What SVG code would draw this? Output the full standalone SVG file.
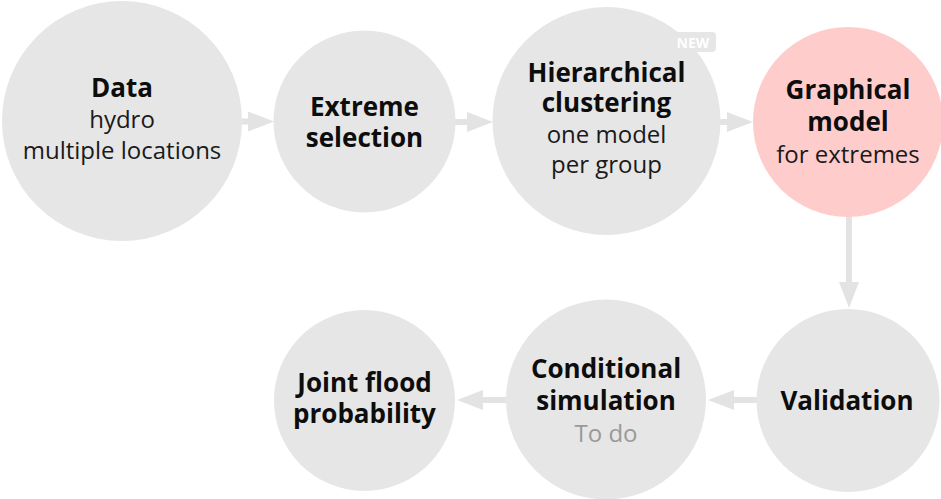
<svg xmlns="http://www.w3.org/2000/svg" width="941" height="499" viewBox="0 0 941 499">
<defs>
<style>
.node{fill:#e6e6e6;}
.hl{fill:#ffcccc;}
.t{font-family:"Open Sans","Noto Sans","DejaVu Sans",sans-serif;font-weight:700;font-size:26px;fill:#0d0d0d;text-anchor:middle;}
.s{font-family:"Open Sans","Noto Sans","DejaVu Sans",sans-serif;font-weight:400;font-size:24px;fill:#1a1a1a;text-anchor:middle;}
.todo{fill:#999;}
.conn line{stroke:#e3e3e3;stroke-width:6;fill:none;marker-end:url(#ah);}
.badge{fill:#e6e6e6;}
.badgetxt{font-family:"Open Sans","Noto Sans","DejaVu Sans",sans-serif;font-weight:700;font-size:14px;fill:#fff;text-anchor:middle;}
</style>
<marker id="ah" markerUnits="userSpaceOnUse" markerWidth="26" markerHeight="21" refX="0" refY="10" orient="auto" viewBox="0 0 26 21">
<path d="M0,0 L26,10 L0,20 Z" fill="#e3e3e3"/>
</marker>
</defs>
<rect width="941" height="499" fill="#fff"/>
<g id="connectors" class="conn">
<line x1="240" y1="121.5" x2="248" y2="121.5"/>
<line x1="453" y1="122" x2="467" y2="122"/>
<line x1="718" y1="122" x2="727" y2="122"/>
<line x1="849" y1="215" x2="849" y2="282"/>
<line x1="759" y1="400" x2="734" y2="400"/>
<line x1="508" y1="400" x2="483" y2="400"/>
</g>
<g id="node-data">
<circle class="node" cx="122" cy="121" r="120"/>
<text class="t" x="122" y="97">Data</text>
<text class="s" x="122" y="128">hydro</text>
<text class="s" x="122" y="159">multiple locations</text>
</g>
<g id="node-extreme">
<circle class="node" cx="364.5" cy="121.5" r="91"/>
<text class="t" x="364.5" y="116">Extreme</text>
<text class="t" x="364.5" y="147">selection</text>
</g>
<g id="node-hier">
<circle class="node" cx="606.5" cy="121" r="114"/>
<rect class="badge" x="670" y="32" width="46" height="20" rx="4"/>
<text class="badgetxt" x="693" y="47.5">NEW</text>
<text class="t" x="606.5" y="82">Hierarchical</text>
<text class="t" x="606.5" y="112">clustering</text>
<text class="s" x="606.5" y="143">one model</text>
<text class="s" x="606.5" y="173">per group</text>
</g>
<g id="node-graphical">
<circle class="hl" cx="848" cy="122" r="95"/>
<text class="t" x="848" y="99">Graphical</text>
<text class="t" x="848" y="131">model</text>
<text class="s" x="848" y="163">for extremes</text>
</g>
<g id="node-validation">
<circle class="node" cx="848" cy="400.5" r="91.5"/>
<text class="t" x="847" y="410">Validation</text>
</g>
<g id="node-conditional">
<circle class="node" cx="606" cy="399.5" r="100"/>
<text class="t" x="606" y="378">Conditional</text>
<text class="t" x="606" y="410">simulation</text>
<text class="s todo" x="606" y="442">To do</text>
</g>
<g id="node-joint">
<circle class="node" cx="364.5" cy="400.5" r="90.5"/>
<text class="t" x="364.5" y="392">Joint flood</text>
<text class="t" x="364.5" y="423">probability</text>
</g>
</svg>
